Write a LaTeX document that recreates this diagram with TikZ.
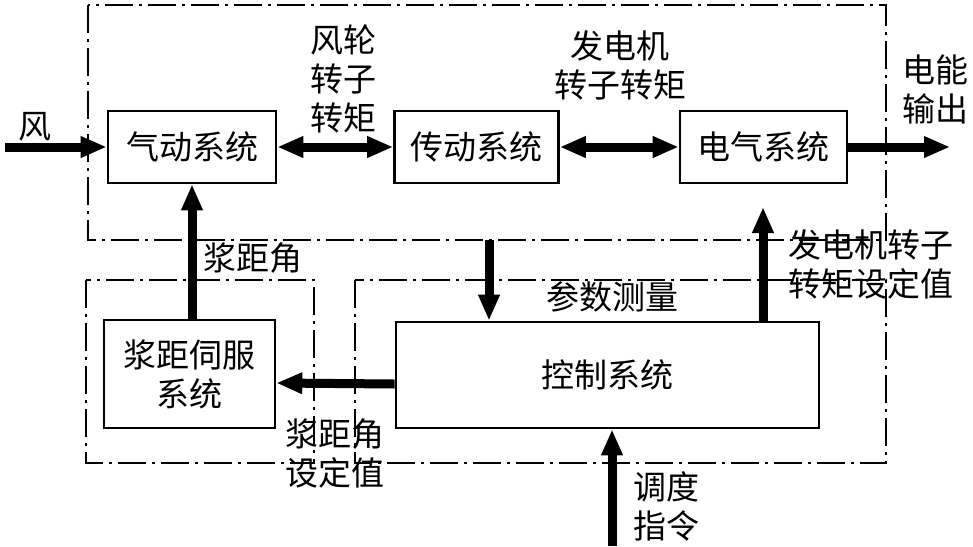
\documentclass[tikz,border=0pt]{standalone}
\usepackage{fontspec}
\setmainfont{Noto Sans CJK SC}
\usetikzlibrary{arrows.meta}

\begin{document}
\begin{tikzpicture}[x=0.5pt,y=-0.5pt,
  font=\fontsize{16.5}{19.5}\selectfont,
  block/.style={draw,line width=1.3pt,minimum height=36pt,inner sep=0pt,align=center},
  region/.style={line width=0.9pt,dash pattern=on 14pt off 3pt on 1.5pt off 3pt},
  flow/.style={line width=4.5pt,-{Triangle[length=13pt,width=10pt]}},
  dflow/.style={line width=4.5pt,{Triangle[length=13pt,width=10pt]}-{Triangle[length=13pt,width=10pt]}},
  lbl/.style={align=center,inner sep=0pt}]
  \useasboundingbox (0,0) rectangle (973,546);

  % dash-dot regions
  \draw[region] (88,5) rectangle (886,240);
  \draw[region] (86,280) rectangle (314,463);
  \draw[region] (355,280) rectangle (886,463);

  % blocks
  \node[block,minimum width=84pt] (aero) at (192,147) {气动系统};
  \node[block,minimum width=82pt] (trans) at (476.5,147) {传动系统};
  \node[block,minimum width=83.5pt] (elec) at (763.5,147) {电气系统};
  \node[block,minimum width=85.5pt,minimum height=54pt] (servo) at (189.5,374) {浆距伺服\\系统};
  \node[block,minimum width=211.5pt,minimum height=53pt] (ctrl) at (607.5,375) {控制系统};

  % free ends
  \coordinate (wind) at (5,147);
  \coordinate (power) at (950,147);
  \coordinate (meas) at (489,240);
  \coordinate (tset) at (763,207);
  \coordinate (cmd) at (612,546);

  % connectors
  \draw[flow] (wind) -- (aero);
  \draw[dflow] (aero) -- (trans);
  \draw[dflow] (trans) -- (elec);
  \draw[flow] (elec) -- (power);
  \draw[flow] (aero.south |- servo.north) -- (aero.south);
  \draw[flow] ([yshift=-4.5pt]ctrl.west) -- ([yshift=-4.5pt]servo.east);
  \draw[flow] (meas) -- (meas |- ctrl.north);
  \draw[flow] (tset |- ctrl.north) -- (tset);
  \draw[flow] (cmd) -- (cmd |- ctrl.south);

  % labels
  \node[lbl] (lwind) at (35,127) {风};
  \node[lbl] (lrotor) at (343,79) {风轮\\转子\\转矩};
  \node[lbl] (lgen) at (620,65) {发电机\\转子转矩};
  \node[lbl] (lpower) at (935,89) {电能\\输出};
  \node[lbl] (lpitch) at (253,258) {浆距角};
  \node[lbl] (ltset) at (871,264) {发电机转子\\转矩设定值};
  \node[lbl] (lmeas) at (612,297) {参数测量};
  \node[lbl] (lpset) at (335,453) {浆距角\\设定值};
  \node[lbl] (lcmd) at (666,506) {调度\\指令};
\end{tikzpicture}
\end{document}
